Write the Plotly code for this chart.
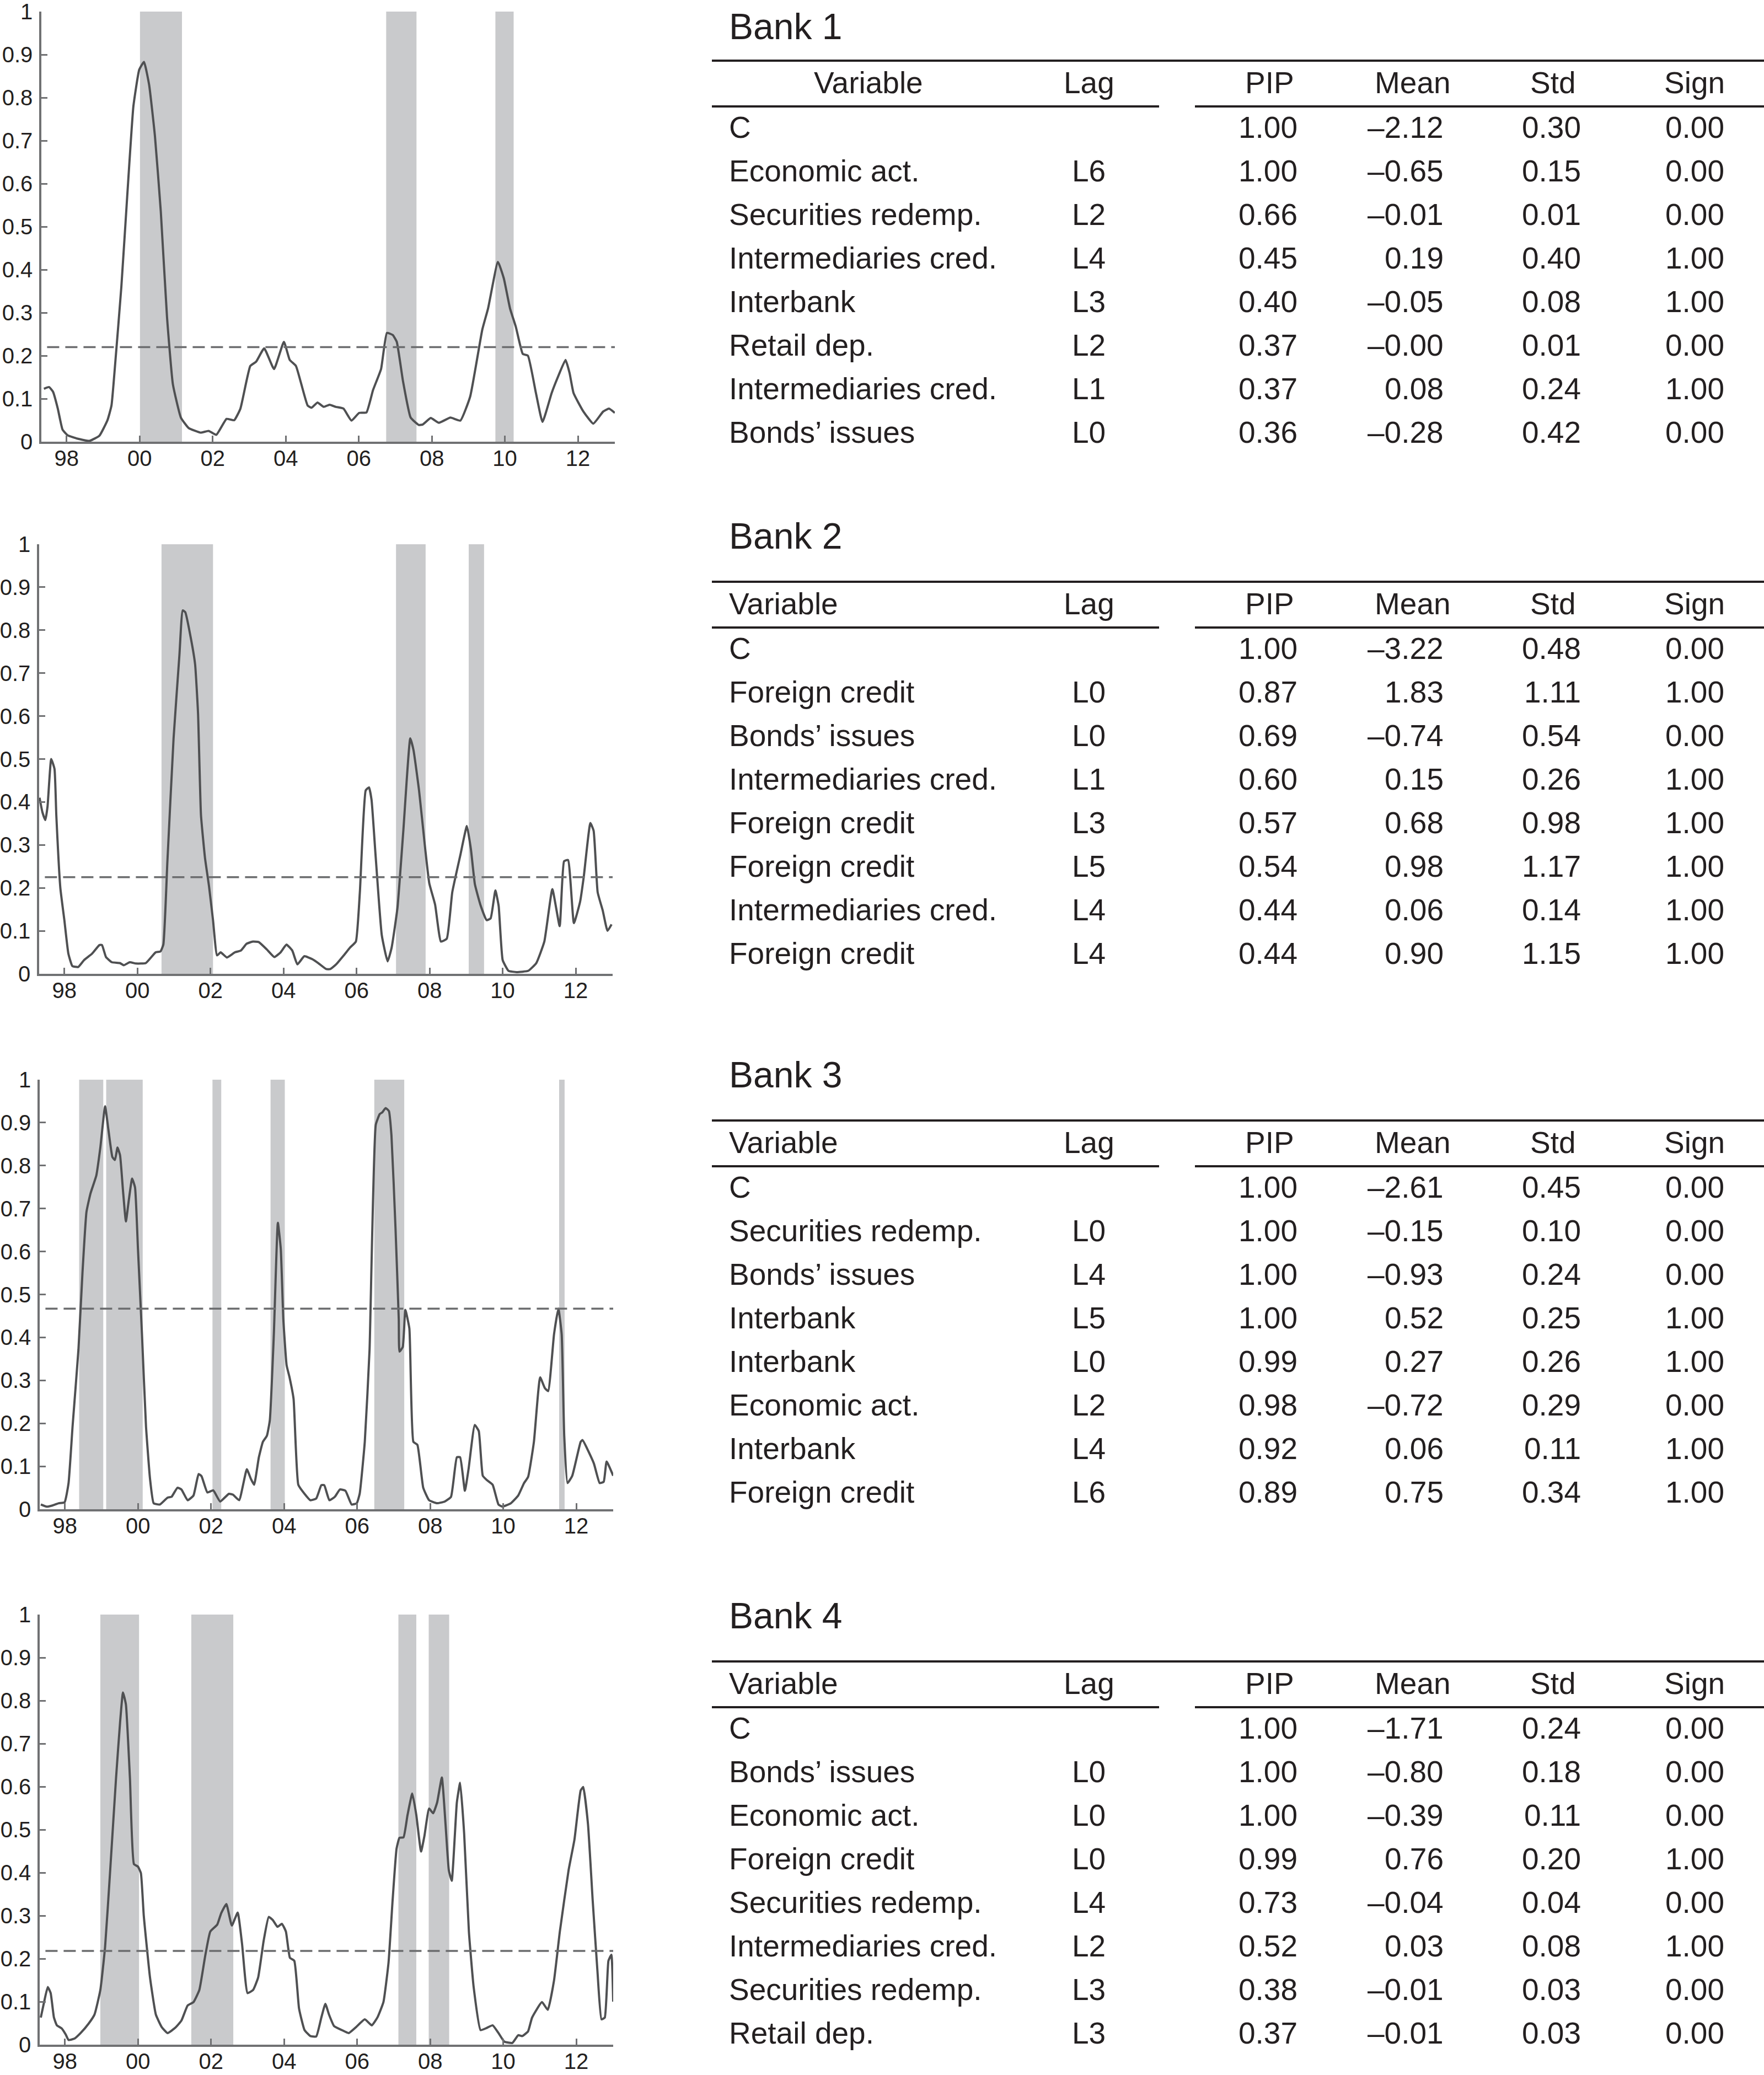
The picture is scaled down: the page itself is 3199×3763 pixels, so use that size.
import plotly.graph_objects as go

W, H = 3199, 3763

# ---------------- chart data ----------------
tick_years = [1998, 2000, 2002, 2004, 2006, 2008, 2010, 2012]
tick_text = ["98", "00", "02", "04", "06", "08", "10", "12"]
y_ticks = [0, 0.1, 0.2, 0.3, 0.4, 0.5, 0.6, 0.7, 0.8, 0.9, 1]
y_ticktext = ["0", "0.1", "0.2", "0.3", "0.4", "0.5", "0.6", "0.7", "0.8", "0.9", "1"]

bank1_years = [1997.38, 1997.52, 1997.63, 1997.76, 1997.89, 1998.03, 1998.30, 1998.63, 1998.90, 1999.12,
               1999.23, 1999.33, 1999.50, 1999.66, 1999.83, 1999.99, 2000.12, 2000.26, 2000.42, 2000.58,
               2000.75, 2000.91, 2001.13, 2001.34, 2001.67, 2001.89, 2002.10, 2002.38, 2002.59, 2002.76,
               2003.03, 2003.19, 2003.41, 2003.68, 2003.95, 2004.11, 2004.28, 2004.60, 2004.71, 2004.87,
               2005.04, 2005.20, 2005.37, 2005.58, 2005.80, 2006.01, 2006.21, 2006.39, 2006.61, 2006.77,
               2006.93, 2007.04, 2007.21, 2007.42, 2007.64, 2007.75, 2007.97, 2008.19, 2008.51, 2008.78,
               2009.05, 2009.38, 2009.54, 2009.81, 2009.97, 2010.14, 2010.30, 2010.49, 2010.63, 2010.85,
               2011.03, 2011.28, 2011.44, 2011.66, 2011.77, 2011.88, 2012.15, 2012.42, 2012.69, 2012.85,
               2013.01]
bank1_pip = [0.123, 0.127, 0.116, 0.077, 0.028, 0.015, 0.007, 0.002, 0.014, 0.050,
             0.084, 0.180, 0.360, 0.570, 0.780, 0.865, 0.883, 0.830, 0.710, 0.535,
             0.290, 0.134, 0.056, 0.032, 0.021, 0.025, 0.016, 0.053, 0.050, 0.077,
             0.176, 0.186, 0.217, 0.169, 0.232, 0.190, 0.176, 0.084, 0.079, 0.091,
             0.081, 0.086, 0.081, 0.077, 0.049, 0.067, 0.068, 0.120, 0.169, 0.253,
             0.248, 0.232, 0.141, 0.056, 0.039, 0.040, 0.055, 0.044, 0.056, 0.049,
             0.105, 0.260, 0.310, 0.418, 0.380, 0.310, 0.267, 0.204, 0.200, 0.113,
             0.046, 0.113, 0.148, 0.190, 0.160, 0.113, 0.070, 0.042, 0.070, 0.077,
             0.067]
bank1_bands = [(2000.01, 2001.16), (2006.75, 2007.58), (2009.74, 2010.24)]
bank1_threshold = 0.22

bank2_years = [1997.32, 1997.40, 1997.48, 1997.54, 1997.64, 1997.73, 1997.78, 1997.89, 1998.00, 1998.11,
               1998.22, 1998.38, 1998.54, 1998.76, 1998.96, 1999.03, 1999.14, 1999.30, 1999.52, 1999.63,
               1999.79, 1999.96, 2000.23, 2000.50, 2000.63, 2000.71, 2000.82, 2000.99, 2001.15, 2001.24,
               2001.31, 2001.47, 2001.58, 2001.66, 2001.74, 2001.85, 2001.96, 2002.07, 2002.18, 2002.28,
               2002.45, 2002.67, 2002.83, 2002.99, 2003.16, 2003.32, 2003.54, 2003.75, 2003.92, 2004.08,
               2004.24, 2004.38, 2004.57, 2004.79, 2004.95, 2005.17, 2005.28, 2005.44, 2005.65, 2005.82,
               2005.98, 2006.09, 2006.25, 2006.34, 2006.41, 2006.52, 2006.69, 2006.85, 2006.96, 2007.12,
               2007.28, 2007.47, 2007.56, 2007.71, 2007.88, 2007.99, 2008.15, 2008.31, 2008.47, 2008.62,
               2008.84, 2009.02, 2009.13, 2009.24, 2009.40, 2009.56, 2009.67, 2009.80, 2009.89, 2010.00,
               2010.16, 2010.38, 2010.70, 2010.92, 2011.14, 2011.36, 2011.56, 2011.68, 2011.79, 2011.95,
               2012.12, 2012.22, 2012.40, 2012.49, 2012.60, 2012.74, 2012.87, 2012.98]
bank2_pip = [0.410, 0.376, 0.358, 0.390, 0.500, 0.477, 0.369, 0.200, 0.125, 0.047,
             0.018, 0.016, 0.032, 0.047, 0.067, 0.067, 0.039, 0.027, 0.025, 0.020,
             0.027, 0.024, 0.025, 0.050, 0.052, 0.068, 0.260, 0.548, 0.742, 0.846,
             0.842, 0.778, 0.720, 0.606, 0.370, 0.270, 0.204, 0.125, 0.043, 0.050,
             0.038, 0.050, 0.054, 0.070, 0.075, 0.074, 0.057, 0.039, 0.050, 0.068,
             0.054, 0.022, 0.041, 0.034, 0.025, 0.011, 0.011, 0.022, 0.043, 0.061,
             0.075, 0.190, 0.427, 0.434, 0.405, 0.276, 0.090, 0.029, 0.061, 0.154,
             0.333, 0.548, 0.520, 0.427, 0.290, 0.211, 0.161, 0.075, 0.082, 0.190,
             0.276, 0.344, 0.290, 0.208, 0.158, 0.125, 0.129, 0.194, 0.158, 0.032,
             0.007, 0.004, 0.007, 0.025, 0.075, 0.197, 0.111, 0.262, 0.265, 0.118,
             0.168, 0.226, 0.351, 0.333, 0.190, 0.147, 0.100, 0.115]
bank2_bands = [(2000.66, 2002.07), (2007.08, 2007.89), (2009.07, 2009.49)]
bank2_threshold = 0.225

bank3_years = [1997.34, 1997.50, 1997.67, 1997.83, 1997.99, 1998.10, 1998.21, 1998.37, 1998.48, 1998.59,
               1998.70, 1998.86, 1998.97, 1999.10, 1999.19, 1999.30, 1999.37, 1999.44, 1999.51, 1999.59,
               1999.67, 1999.75, 1999.84, 1999.92, 2000.00, 2000.11, 2000.22, 2000.33, 2000.43, 2000.60,
               2000.81, 2000.92, 2001.08, 2001.19, 2001.36, 2001.52, 2001.66, 2001.74, 2001.90, 2002.06,
               2002.25, 2002.49, 2002.60, 2002.77, 2002.98, 2003.09, 2003.18, 2003.31, 2003.42, 2003.53,
               2003.61, 2003.72, 2003.83, 2003.91, 2003.98, 2004.07, 2004.15, 2004.26, 2004.39, 2004.56,
               2004.72, 2004.88, 2005.02, 2005.10, 2005.24, 2005.39, 2005.53, 2005.68, 2005.85, 2005.99,
               2006.07, 2006.21, 2006.34, 2006.51, 2006.62, 2006.69, 2006.78, 2006.87, 2006.94, 2007.05,
               2007.14, 2007.16, 2007.25, 2007.32, 2007.43, 2007.54, 2007.65, 2007.81, 2007.97, 2008.19,
               2008.40, 2008.57, 2008.73, 2008.82, 2008.95, 2009.05, 2009.22, 2009.33, 2009.44, 2009.55,
               2009.71, 2009.87, 2009.98, 2010.21, 2010.41, 2010.57, 2010.68, 2010.84, 2011.01, 2011.14,
               2011.23, 2011.39, 2011.51, 2011.60, 2011.67, 2011.76, 2011.89, 2012.12, 2012.17, 2012.48,
               2012.64, 2012.75, 2012.83, 2013.01]
bank3_pip = [0.011, 0.006, 0.009, 0.014, 0.016, 0.061, 0.193, 0.371, 0.549, 0.692,
             0.735, 0.777, 0.842, 0.938, 0.884, 0.820, 0.813, 0.842, 0.824, 0.742,
             0.670, 0.720, 0.770, 0.749, 0.606, 0.407, 0.193, 0.071, 0.014, 0.011,
             0.027, 0.029, 0.050, 0.046, 0.021, 0.032, 0.082, 0.077, 0.039, 0.044,
             0.018, 0.036, 0.034, 0.021, 0.093, 0.071, 0.057, 0.121, 0.157, 0.171,
             0.207, 0.407, 0.667, 0.606, 0.442, 0.335, 0.307, 0.257, 0.057, 0.036,
             0.021, 0.025, 0.056, 0.056, 0.021, 0.029, 0.046, 0.043, 0.011, 0.014,
             0.036, 0.157, 0.371, 0.895, 0.920, 0.924, 0.934, 0.927, 0.870, 0.656,
             0.442, 0.367, 0.378, 0.464, 0.421, 0.157, 0.150, 0.050, 0.021, 0.014,
             0.018, 0.029, 0.121, 0.121, 0.043, 0.093, 0.196, 0.182, 0.078, 0.068,
             0.057, 0.011, 0.006, 0.014, 0.032, 0.061, 0.075, 0.157, 0.307, 0.282,
             0.275, 0.407, 0.467, 0.407, 0.171, 0.061, 0.078, 0.157, 0.161, 0.107,
             0.061, 0.064, 0.111, 0.078]
bank3_bands = [(1998.39, 1999.05), (1999.13, 2000.13), (2002.04, 2002.28), (2003.63, 2004.02),
               (2006.47, 2007.29), (2011.53, 2011.68)]
bank3_threshold = 0.467

bank4_years = [1997.34, 1997.43, 1997.53, 1997.61, 1997.70, 1997.78, 1997.91, 1998.02, 1998.10, 1998.26,
               1998.43, 1998.65, 1998.81, 1998.97, 1999.10, 1999.24, 1999.40, 1999.51, 1999.59, 1999.67,
               1999.78, 1999.89, 2000.00, 2000.08, 2000.16, 2000.33, 2000.49, 2000.65, 2000.81, 2001.03,
               2001.19, 2001.36, 2001.52, 2001.68, 2001.84, 2001.98, 2002.17, 2002.28, 2002.42, 2002.57,
               2002.73, 2002.85, 2003.00, 2003.15, 2003.29, 2003.44, 2003.58, 2003.69, 2003.82, 2003.94,
               2004.05, 2004.16, 2004.28, 2004.41, 2004.56, 2004.72, 2004.88, 2005.02, 2005.13, 2005.23,
               2005.37, 2005.58, 2005.77, 2005.96, 2006.21, 2006.40, 2006.56, 2006.72, 2006.86, 2006.97,
               2007.08, 2007.16, 2007.27, 2007.38, 2007.51, 2007.62, 2007.75, 2007.84, 2007.97, 2008.08,
               2008.19, 2008.32, 2008.42, 2008.51, 2008.59, 2008.73, 2008.82, 2008.93, 2009.06, 2009.19,
               2009.38, 2009.55, 2009.71, 2009.87, 2010.03, 2010.25, 2010.41, 2010.52, 2010.68, 2010.79,
               2011.06, 2011.22, 2011.39, 2011.55, 2011.79, 2011.95, 2012.12, 2012.19, 2012.32, 2012.45,
               2012.58, 2012.69, 2012.78, 2012.88, 2012.96, 2013.01]
bank4_pip = [0.063, 0.099, 0.134, 0.120, 0.063, 0.045, 0.038, 0.024, 0.011, 0.014,
             0.027, 0.049, 0.070, 0.127, 0.227, 0.406, 0.620, 0.749, 0.819, 0.791,
             0.620, 0.420, 0.414, 0.399, 0.299, 0.156, 0.070, 0.041, 0.027, 0.040,
             0.056, 0.091, 0.099, 0.127, 0.206, 0.263, 0.279, 0.306, 0.327, 0.277,
             0.307, 0.234, 0.120, 0.127, 0.156, 0.241, 0.297, 0.290, 0.274, 0.281,
             0.263, 0.202, 0.195, 0.084, 0.034, 0.020, 0.019, 0.063, 0.095, 0.070,
             0.043, 0.034, 0.027, 0.040, 0.059, 0.045, 0.064, 0.099, 0.191, 0.334,
             0.456, 0.481, 0.482, 0.534, 0.584, 0.534, 0.449, 0.484, 0.549, 0.538,
             0.563, 0.621, 0.513, 0.406, 0.381, 0.563, 0.609, 0.491, 0.263, 0.134,
             0.034, 0.039, 0.045, 0.027, 0.007, 0.004, 0.022, 0.020, 0.031, 0.063,
             0.099, 0.081, 0.149, 0.263, 0.406, 0.477, 0.591, 0.599, 0.513, 0.334,
             0.170, 0.059, 0.063, 0.195, 0.209, 0.100]
bank4_bands = [(1998.97, 2000.03), (2001.46, 2002.61), (2007.13, 2007.62), (2007.96, 2008.52)]
bank4_threshold = 0.218

# ---------------- table data ----------------
bank1_vars = ["C", "Economic act.", "Securities redemp.", "Intermediaries cred.", "Interbank",
              "Retail dep.", "Intermediaries cred.", "Bonds\u2019 issues"]
bank1_lags = ["", "L6", "L2", "L4", "L3", "L2", "L1", "L0"]
bank1_pipv = [1.00, 1.00, 0.66, 0.45, 0.40, 0.37, 0.37, 0.36]
bank1_mean = [-2.12, -0.65, -0.01, 0.19, -0.05, -0.00, 0.08, -0.28]
bank1_std = [0.30, 0.15, 0.01, 0.40, 0.08, 0.01, 0.24, 0.42]
bank1_sign = [0.00, 0.00, 0.00, 1.00, 1.00, 0.00, 1.00, 0.00]

bank2_vars = ["C", "Foreign credit", "Bonds\u2019 issues", "Intermediaries cred.", "Foreign credit",
              "Foreign credit", "Intermediaries cred.", "Foreign credit"]
bank2_lags = ["", "L0", "L0", "L1", "L3", "L5", "L4", "L4"]
bank2_pipv = [1.00, 0.87, 0.69, 0.60, 0.57, 0.54, 0.44, 0.44]
bank2_mean = [-3.22, 1.83, -0.74, 0.15, 0.68, 0.98, 0.06, 0.90]
bank2_std = [0.48, 1.11, 0.54, 0.26, 0.98, 1.17, 0.14, 1.15]
bank2_sign = [0.00, 1.00, 0.00, 1.00, 1.00, 1.00, 1.00, 1.00]

bank3_vars = ["C", "Securities redemp.", "Bonds\u2019 issues", "Interbank", "Interbank",
              "Economic act.", "Interbank", "Foreign credit"]
bank3_lags = ["", "L0", "L4", "L5", "L0", "L2", "L4", "L6"]
bank3_pipv = [1.00, 1.00, 1.00, 1.00, 0.99, 0.98, 0.92, 0.89]
bank3_mean = [-2.61, -0.15, -0.93, 0.52, 0.27, -0.72, 0.06, 0.75]
bank3_std = [0.45, 0.10, 0.24, 0.25, 0.26, 0.29, 0.11, 0.34]
bank3_sign = [0.00, 0.00, 0.00, 1.00, 1.00, 0.00, 1.00, 1.00]

bank4_vars = ["C", "Bonds\u2019 issues", "Economic act.", "Foreign credit", "Securities redemp.",
              "Intermediaries cred.", "Securities redemp.", "Retail dep."]
bank4_lags = ["", "L0", "L0", "L0", "L4", "L2", "L3", "L3"]
bank4_pipv = [1.00, 1.00, 1.00, 0.99, 0.73, 0.52, 0.38, 0.37]
bank4_mean = [-1.71, -0.80, -0.39, 0.76, -0.04, 0.03, -0.01, -0.01]
bank4_std = [0.24, 0.18, 0.11, 0.20, 0.04, 0.08, 0.03, 0.03]
bank4_sign = [0.00, 0.00, 0.00, 1.00, 0.00, 1.00, 0.00, 0.00]

table_headers = ["Variable", "Lag", "PIP", "Mean", "Std", "Sign"]
bank_titles = ["Bank 1", "Bank 2", "Bank 3", "Bank 4"]

# ---------------- styling / layout ----------------
FONT = "Liberation Sans, Arial, Helvetica, sans-serif"
TXT = "#231f20"
AX = "#707173"
LINE = "#4f5052"
BAND = "#c9cacc"

def px(x):
    return x / W

def py(y):
    return 1 - y / H

charts = [
    dict(years=bank1_years, pip=bank1_pip, bands=bank1_bands, thr=bank1_threshold, left=75, right=1115, top=21, bottom=801),
    dict(years=bank2_years, pip=bank2_pip, bands=bank2_bands, thr=bank2_threshold, left=71, right=1111, top=987, bottom=1766),
    dict(years=bank3_years, pip=bank3_pip, bands=bank3_bands, thr=bank3_threshold, left=72, right=1112, top=1958, bottom=2737),
    dict(years=bank4_years, pip=bank4_pip, bands=bank4_bands, thr=bank4_threshold, left=72, right=1112, top=2928, bottom=3708),
]
XRANGE = [1997.31, 2013.01]

fig = go.Figure()
shapes = []
annotations = []
layout_axes = {}

for i, c in enumerate(charts, start=1):
    xa = "x" if i == 1 else f"x{i}"
    ya = "y" if i == 1 else f"y{i}"
    fig.add_trace(go.Scatter(
        x=c["years"], y=c["pip"], mode="lines", xaxis=xa, yaxis=ya,
        line=dict(color=LINE, width=4, shape="spline", smoothing=0.4),
        showlegend=False, hoverinfo="skip"))
    for (b0, b1) in c["bands"]:
        shapes.append(dict(type="rect", xref=xa, yref=ya, x0=b0, x1=b1, y0=0, y1=1,
                           fillcolor=BAND, line=dict(width=0), layer="below"))
    shapes.append(dict(type="line", xref=f"{xa} domain", yref=ya, x0=0.01, x1=1,
                       y0=c["thr"], y1=c["thr"],
                       line=dict(color="#6b6c6e", width=3.5, dash="22px,11px"), layer="above"))
    common = dict(showgrid=False, zeroline=False, showline=True, linecolor=AX, linewidth=3.5,
                  ticks="inside", ticklen=11, tickwidth=3, tickcolor=AX, automargin=False,
                  ticklabeloverflow="allow",
                  tickfont=dict(family=FONT, size=40, color=TXT))
    layout_axes["xaxis" if i == 1 else f"xaxis{i}"] = dict(
        domain=[px(c["left"]), px(c["right"])], range=XRANGE, anchor=ya,
        tickmode="array", tickvals=tick_years, ticktext=tick_text, ticklabelstandoff=-8, **common)
    layout_axes["yaxis" if i == 1 else f"yaxis{i}"] = dict(
        domain=[py(c["bottom"]), py(c["top"])], range=[0, 1], anchor=xa,
        tickmode="array", tickvals=y_ticks, ticktext=y_ticktext, ticklabelstandoff=4, **common)

# ---------------- tables ----------------
tables = [
    (bank1_vars, bank1_lags, bank1_pipv, bank1_mean, bank1_std, bank1_sign),
    (bank2_vars, bank2_lags, bank2_pipv, bank2_mean, bank2_std, bank2_sign),
    (bank3_vars, bank3_lags, bank3_pipv, bank3_mean, bank3_std, bank3_sign),
    (bank4_vars, bank4_lags, bank4_pipv, bank4_mean, bank4_std, bank4_sign),
]
rule_tops = [110, 1055, 2032, 3013]
title_ys = [48, 972, 1949, 2930]

TFS = 55
X_VAR = 1320
X_LAG = 1974
NUM_RIGHT = [2355, 2620, 2869, 3129]
HDR_CENTER = [2302, 2562, 2816, 3073]

def fmt(v):
    return f"{v:.2f}".replace("-", "\u2013")

def add_text(text, x, y, anchor, size=TFS):
    annotations.append(dict(text=text, x=px(x), y=py(y), xref="paper", yref="paper",
                            xanchor=anchor, yanchor="middle", showarrow=False,
                            font=dict(family=FONT, size=size, color=TXT)))

for b, (vars_, lags, pipv, mean, std, sign) in enumerate(tables):
    T = rule_tops[b]
    add_text(bank_titles[b], X_VAR, title_ys[b], "left", size=66)
    shapes.append(dict(type="line", xref="paper", yref="paper", x0=px(1291), x1=px(3199),
                       y0=py(T), y1=py(T), line=dict(color=TXT, width=4)))
    for (a0, a1) in [(1291, 2102), (2167, 3199)]:
        shapes.append(dict(type="line", xref="paper", yref="paper", x0=px(a0), x1=px(a1),
                           y0=py(T + 83), y1=py(T + 83), line=dict(color=TXT, width=4)))
    hy = T + 40
    if b == 0:
        add_text(table_headers[0], 1575, hy, "center")
    else:
        add_text(table_headers[0], X_VAR, hy, "left")
    add_text(table_headers[1], 1975, hy, "center")
    for k in range(4):
        add_text(table_headers[2 + k], HDR_CENTER[k], hy, "center")
    for r in range(len(vars_)):
        ry = T + 121 + 79 * r
        add_text(vars_[r], X_VAR, ry, "left")
        if lags[r]:
            add_text(lags[r], X_LAG, ry, "center")
        for k, col in enumerate([pipv, mean, std, sign]):
            add_text(fmt(col[r]), NUM_RIGHT[k], ry, "right")

fig.update_layout(
    width=W, height=H, margin=dict(l=0, r=0, t=0, b=0, autoexpand=False),
    paper_bgcolor="white", plot_bgcolor="white",
    shapes=shapes, annotations=annotations, showlegend=False,
    **layout_axes)

fig.write_html("out.html", config={"displayModeBar": False},
               post_script="document.body.style.margin='0px';document.body.style.overflow='hidden';")
